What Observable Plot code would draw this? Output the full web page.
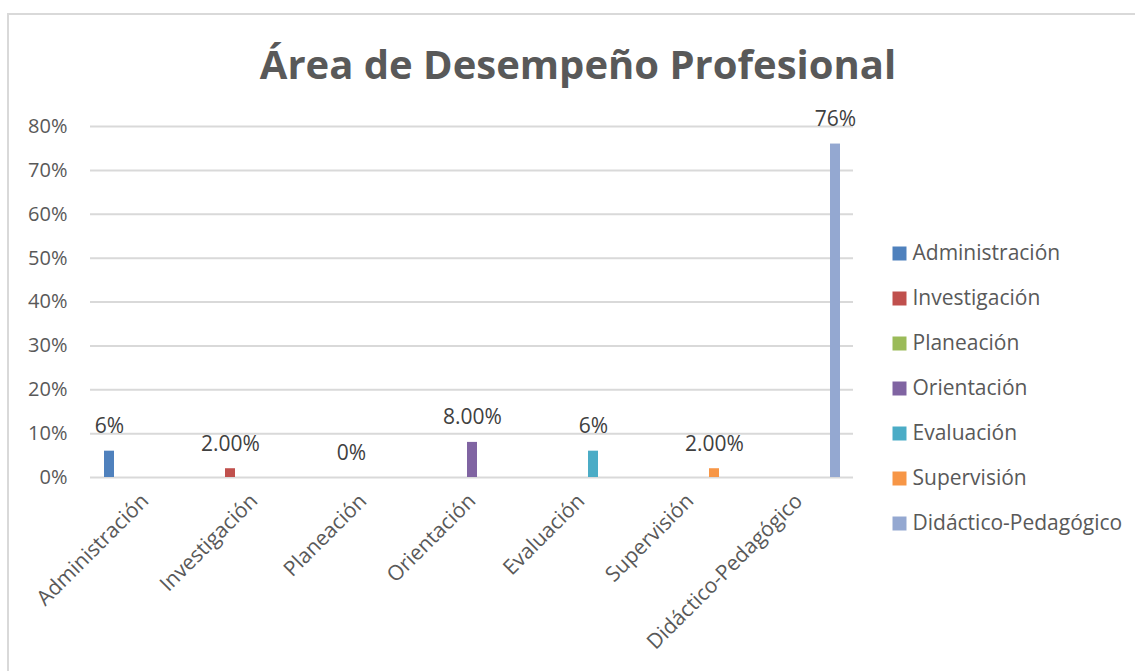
<!DOCTYPE html>
<html>
<head>
<meta charset="utf-8">
<script src="https://cdn.jsdelivr.net/npm/d3@7"></script>
<script src="https://cdn.jsdelivr.net/npm/@observablehq/plot@0.6"></script>
<style>
  body { margin: 0; background: #ffffff; }
  #wrap { position: relative; width: 1135px; height: 671px; overflow: hidden; background: #ffffff; font-family: 'Open Sans', sans-serif; }
  #border { position: absolute; left: 7px; top: 13px; width: 2000px; height: 2000px; border-left: 2px solid #d9d9d9; border-top: 2px solid #d9d9d9; }
  #title { position: relative; height: 100px; box-sizing: border-box; padding-top: 44px; padding-left: 21px; text-align: center; font: bold 40px 'Open Sans', sans-serif; line-height: 1; color: #595959; }
  #chart { position: absolute; left: 0; top: 100px; }
  #legend { position: absolute; left: 880px; top: 229.5px; }
</style>
</head>
<body>
<div id="wrap">
  <div id="border"></div>
  <div id="title">Área de Desempeño Profesional</div>
  <div id="chart"></div>
  <div id="legend"></div>
</div>
<script>
const categories = ["Administración", "Investigación", "Planeación", "Orientación", "Evaluación", "Supervisión", "Didáctico-Pedagógico"];
const values = [0.06, 0.02, 0, 0.08, 0.06, 0.02, 0.76];
const valueLabels = ["6%", "2.00%", "0%", "8.00%", "6%", "2.00%", "76%"];
const colors = ["#4f81bd", "#c0504d", "#9bbb59", "#8064a2", "#4bacc6", "#f79646", "#94a8d1"];
const yTicks = [0, 0.1, 0.2, 0.3, 0.4, 0.5, 0.6, 0.7, 0.8];

const rows = categories.map((c, i) => ({category: c, series: c, value: values[i], label: valueLabels[i]}));

const chart = Plot.plot({
  width: 880,
  height: 571,
  marginLeft: 89,
  marginRight: 27,
  marginTop: 26,
  marginBottom: 194,
  style: {fontFamily: "'Open Sans', sans-serif", background: "transparent", overflow: "visible"},
  fx: {domain: categories, padding: 0, axis: null, label: null},
  x: {domain: categories, paddingInner: 0.17, paddingOuter: 0.885, axis: null},
  y: {domain: [0, 0.8], axis: null},
  color: {domain: categories, range: colors},
  marks: [
    Plot.gridY(yTicks, {stroke: "#d9d9d9", strokeOpacity: 1, strokeWidth: 2}),
    Plot.axisY(yTicks, {tickFormat: d3.format(".0%"), tickSize: 0, tickPadding: 23, fontSize: 20, fill: "#595959", label: null}),
    Plot.axisFx({anchor: "bottom", tickRotate: -45, tickSize: 0, tickPadding: 20, fontSize: 21, fill: "#595959", label: null}),
    Plot.barY(rows, {fx: "category", x: "series", y: "value", fill: "series"}),
    Plot.text(rows, {fx: "category", x: "series", y: "value", text: "label", dy: -18, lineAnchor: "bottom", fontSize: 21, fill: "#404040"})
  ]
});
document.getElementById("chart").appendChild(chart);

const legend = Plot.plot({
  width: 255,
  height: 315,
  margin: 0,
  style: {fontFamily: "'Open Sans', sans-serif", background: "transparent", overflow: "visible"},
  x: {domain: [0, 1], axis: null},
  y: {domain: categories, padding: 0.5, axis: null},
  color: {domain: categories, range: colors},
  marks: [
    Plot.dot(categories, {x: () => 0, y: d => d, fill: d => d, symbol: "square", r: 7.9, dx: 19}),
    Plot.text(categories, {x: () => 0, y: d => d, text: d => d, dx: 32, textAnchor: "start", fontSize: 21, fill: "#595959"})
  ]
});
document.getElementById("legend").appendChild(legend);
</script>
</body>
</html>
